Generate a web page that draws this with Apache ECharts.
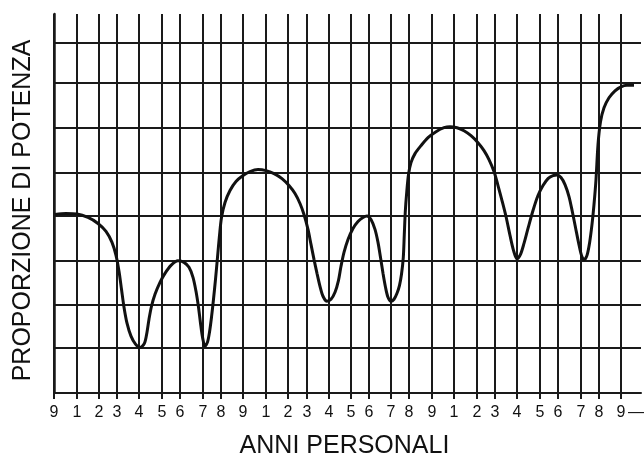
<!DOCTYPE html>
<html><head><meta charset="utf-8">
<script src="https://cdn.jsdelivr.net/npm/echarts@6/dist/echarts.min.js"></script>
<style>html,body{margin:0;padding:0;background:#fff}#c{width:644px;height:464px}</style>
</head><body><div id="c"></div>
<script>
// Positions of the year ticks along the (hand-drawn, uneven) time axis
const xTickPositions = [0,23,45,63,85,108,126,149,167,189,212,234,253,275,297,315,337,355,378,400,423,441,463,486,504,527,545,567];
const xTickLabels = ['9','1','2','3','4','5','6','7','8','9','1','2','3','4','5','6','7','8','9','1','2','3','4','5','6','7','8','9'];
// Horizontal grid levels (uneven, hand-drawn)
const yGridLevels = [45,88,133,178,221,266,311,351];
// Power curve
const curveX = [1,12,23,34,44,52,58,62,65,67.5,70,73,77,81.5,86,90.5,93,95,97.5,101,106,111,117,124,130,135,139,142,144.5,146.5,148.5,151,153.5,155.5,157.5,159.5,161.5,163.5,165.5,167.5,171,176,182,189,196,204,212,220,228,235,241,246,250,254,257,260,263,266,269,273,277,281,284.5,287,290,294,299,304,309,313,317,321,324,326.5,329,331.5,334,337,340,343,345.5,347.5,349.3,350.3,351.3,352.7,354.5,357,361,367,374,382,390,396,403,410,417,424,430,435,440,444,448,452,456,459.5,463,466.5,470,474,479,484,489,494,499,503,507,511,515,518.5,521.5,524.5,527.5,530,533,535.5,538,540,542,544,546.5,550,555,561,567,573,580];
const curveY = [179,180,179.5,176,170,162,151,138,122,104,86,70,57,49,45.5,50,61,74,87,99,111,120,128,132.5,131,126,116,102,86,70,56,47,51,61,76,94,114,136,158,176,191,203,212,218,222,224,223,220,215,208,200,190,179,164,149,134,120,107,97,92,94,101,113,127,141,154,165,172,176,177.5,174,164,151,136,120,106,96,92,94,100,108,119,136,159,182,201,219,231,240,248,256,262,266,267,266,263,258,251,243,234,222,208,193,177,158,143,134.5,139,150,165,183,198,208,215,218,218.5,216,209,197,181,166,151,138,133.5,138,150,169,189,214,249,272,286,296,303,307,308.5,308.5];
const xTitle = 'ANNI PERSONALI';
const yTitle = 'PROPORZIONE DI POTENZA';

const ink = '#1a1a1a';
const font = 'Liberation Sans, Arial, Helvetica, sans-serif';
const chart = echarts.init(document.getElementById('c'), null, {renderer: 'canvas'});
chart.setOption({
  animation: false,
  backgroundColor: '#fff',
  grid: {left: 54, right: 3, top: 14, bottom: 70, containLabel: false},
  xAxis: {
    type: 'value', min: 0, max: 587,
    name: xTitle, nameLocation: 'middle', nameGap: 41,
    nameTextStyle: {fontFamily: font, fontSize: 25, color: '#111', padding: [0, 6, 0, 0]},
    axisLine: {show: true, lineStyle: {color: ink, width: 2}},
    axisTick: {show: true, inside: false, length: 6, customValues: xTickPositions, lineStyle: {color: ink, width: 2}},
    axisLabel: {show: true, customValues: xTickPositions, margin: 12, fontFamily: font, fontSize: 16, color: '#111',
      formatter: function (v) { const i = xTickPositions.indexOf(v); return i >= 0 ? xTickLabels[i] : ''; }},
    splitLine: {show: true, lineStyle: {color: ink, width: 2}}
  },
  yAxis: {
    type: 'value', min: 0, max: 380,
    name: yTitle, nameLocation: 'middle', nameGap: 18, nameRotate: 90,
    nameTextStyle: {fontFamily: font, fontSize: 25, color: '#111', padding: [0, 14, 0, 0]},
    axisLine: {show: true, lineStyle: {color: ink, width: 2.5}},
    axisTick: {show: false, customValues: yGridLevels},
    axisLabel: {show: false, customValues: yGridLevels},
    splitLine: {show: true, lineStyle: {color: ink, width: 2}}
  },
  graphic: [{type: 'text', left: 628, top: 405, style: {text: '—', font: '16px ' + font, fill: '#111'}}],
  series: [{
    type: 'line', data: curveX.map((x, i) => [x, curveY[i]]),
    smooth: 0.3, showSymbol: false, symbol: 'none',
    lineStyle: {color: '#111', width: 3}
  }]
});
</script></body></html>
